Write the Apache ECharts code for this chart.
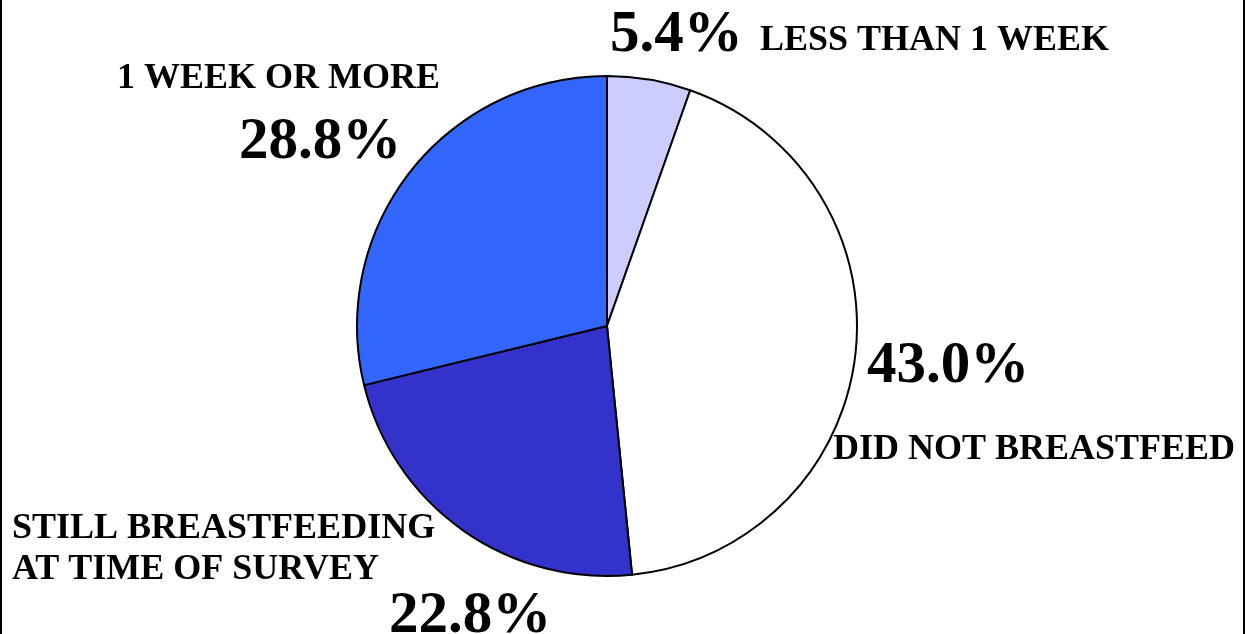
<!DOCTYPE html>
<html>
<head>
<meta charset="utf-8">
<script src="https://cdn.jsdelivr.net/npm/echarts@6/dist/echarts.min.js"></script>
<style>
html,body{margin:0;padding:0;background:#fff;}
#chart{width:1245px;height:634px;}
</style>
</head>
<body>
<div id="chart"></div>
<script>
const categories = ['LESS THAN 1 WEEK', 'DID NOT BREASTFEED', 'STILL BREASTFEEDING\nAT TIME OF SURVEY', '1 WEEK OR MORE'];
const values = [5.4, 43.0, 22.8, 28.8];
const colors = ['#CCCCFF', '#FFFFFF', '#3333CC', '#3366FF'];

const serif = '"Liberation Serif", "Times New Roman", serif';
// label placement: [pctX, pctY, nameX, nameY]
const labelPos = [
  [610, 36, 760, 41],
  [867, 367, 833, 450],
  [389, 617, 12, 549],
  [239, 143, 117, 79]
];

const graphics = [
  {type:'rect', shape:{x:0,y:0,width:2,height:634}, style:{fill:'#000'}},
  {type:'rect', shape:{x:1243,y:0,width:2,height:634}, style:{fill:'#000'}}
];
values.forEach((v,i)=>{
  const p = labelPos[i];
  graphics.push({type:'text', x:p[0], y:p[1], style:{text:v.toFixed(1)+'%', font:'bold 59px '+serif, fill:'#000', textAlign:'left', textVerticalAlign:'middle'}});
  graphics.push({type:'text', x:p[2], y:p[3], style:{text:categories[i], font:'bold 36px '+serif, fill:'#000', textAlign:'left', textVerticalAlign:'middle', lineHeight:41}});
});

const chart = echarts.init(document.getElementById('chart'), null, {renderer:'canvas'});
chart.setOption({
  backgroundColor:'#fff',
  animation:false,
  series:[{
    type:'pie',
    center:[607,326],
    radius:250,
    startAngle:90,
    clockwise:true,
    label:{show:false},
    labelLine:{show:false},
    emphasis:{disabled:true},
    itemStyle:{borderColor:'#000', borderWidth:2},
    data: values.map((v,i)=>({name:categories[i], value:v, itemStyle:{color:colors[i]}}))
  }],
  graphic: graphics
});
</script>
</body>
</html>
